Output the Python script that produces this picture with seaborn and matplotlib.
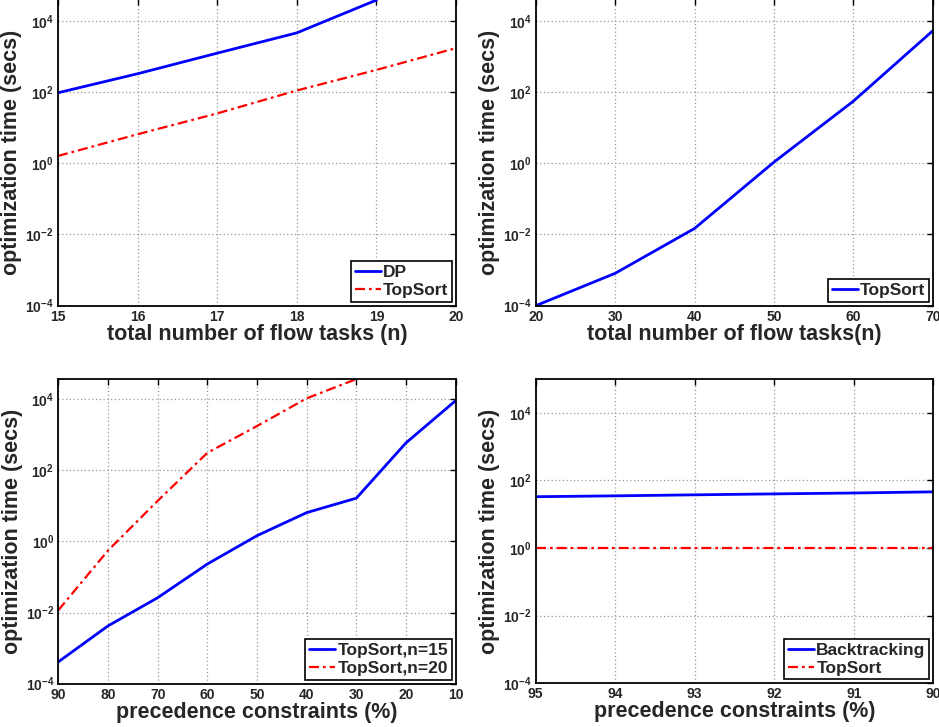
import numpy as np
import matplotlib
matplotlib.use("Agg")
import matplotlib.pyplot as plt
from matplotlib.ticker import FixedLocator, FuncFormatter, NullLocator
import seaborn as sns

# ---------------- data ----------------
# panel 1 (top-left)
tl_x = [15, 16, 17, 18, 19, 20]
tl_dp = [95, 325, 1230, 4560, 3.8e4, np.nan]
tl_topsort = [1.6, 6.5, 25, 110, 416, 1700]
# panel 2 (top-right)
tr_x = [20, 30, 40, 50, 60, 70]
tr_topsort = [1.0e-4, 8.1e-4, 0.0147, 1.07, 55, 5200]
# panel 3 (bottom-left)
bl_x = [90, 80, 70, 60, 50, 40, 30, 20, 10]
bl_n15 = [4.1e-4, 4.2e-3, 0.026, 0.23, 1.44, 6.4, 16.3, 585, 8980]
bl_n20 = [0.0116, 0.55, 13.7, 306, 1730, 1.04e4, 3.6e4, np.nan, np.nan]
# panel 4 (bottom-right)
br_x = [95, 94, 93, 92, 91, 90]
br_backtracking = [33, 35, 37.5, 40, 42.5, 46]
br_topsort = [1.0, 1.0, 1.0, 1.0, 1.0, 1.0]

y_ticks = [1e-4, 1e-2, 1e0, 1e2, 1e4]

# ---------------- style ----------------
sns.set_style("white")
plt.rcParams["font.family"] = ["Liberation Sans", "DejaVu Sans"]
plt.rcParams["font.weight"] = "bold"
plt.rcParams["mathtext.fontset"] = "custom"
plt.rcParams["mathtext.bf"] = "Liberation Sans:bold"
plt.rcParams["mathtext.rm"] = "Liberation Sans:bold"
plt.rcParams["mathtext.it"] = "Liberation Sans:bold"

W, H = 939, 727
fig = plt.figure(figsize=(W / 100, H / 100), dpi=100)


def px_axes(left, right, top, bottom):
    return fig.add_axes([left / W, (H - bottom) / H, (right - left) / W, (bottom - top) / H])


BLUE = (0, 0, 1)
RED = (1, 0, 0)
DASHDOT = (0, (4.5, 1.8, 1.2, 1.8))


def style_axes(ax, xticks, xlim, ylim, xlabel):
    ax.set_yscale("log")
    ax.set_xlim(*xlim)
    ax.set_ylim(*ylim)
    ax.xaxis.set_major_locator(FixedLocator(xticks))
    ax.yaxis.set_major_locator(FixedLocator(y_ticks))
    ax.yaxis.set_minor_locator(NullLocator())
    ax.xaxis.set_minor_locator(NullLocator())
    ax.yaxis.set_major_formatter(
        FuncFormatter(lambda v, p: r"$\mathbf{10^{%d}}$" % int(round(np.log10(v)))))
    ax.xaxis.set_major_formatter(FuncFormatter(lambda v, p: "%d" % v))
    ax.tick_params(which="both", direction="in", length=4, width=1.0, top=True, right=True,
                   labelsize=10, pad=3, color="black")
    for lab in ax.get_xticklabels() + ax.get_yticklabels():
        lab.set_fontweight("bold")
    ax.grid(True, which="major", linestyle=(0, (1, 2)), color="#9a9a9a", linewidth=0.9)
    for s in ax.spines.values():
        s.set_color("black")
        s.set_linewidth(1.3)
    ax.set_xlabel(xlabel, fontsize=15.5, fontweight="bold", labelpad=0)
    ax.set_ylabel("optimization time (secs)", fontsize=15.5, fontweight="bold", labelpad=2)


def legend(ax):
    leg = ax.legend(loc="lower right", fontsize=12.5, frameon=True, fancybox=False,
                    edgecolor="black", framealpha=1, borderaxespad=0.22, handlelength=1.5,
                    handletextpad=0.12, labelspacing=0.15, borderpad=0.22)
    leg.get_frame().set_linewidth(1.2)
    for t in leg.get_texts():
        t.set_fontweight("bold")


# ---------------- panel 1 ----------------
ax1 = px_axes(58, 456, -1, 305.7)
ax1.set_yscale("log")
sns.lineplot(x=tl_x, y=tl_dp, ax=ax1, color=BLUE, linewidth=2.0, label="DP", estimator=None)
sns.lineplot(x=tl_x, y=tl_topsort, ax=ax1, color=RED, linewidth=1.6, linestyle=DASHDOT,
             label="TopSort", estimator=None)
style_axes(ax1, [15, 16, 17, 18, 19, 20], (15, 20), (1e-4, 10 ** 4.61),
           "total number of flow tasks (n)")
legend(ax1)

# ---------------- panel 2 ----------------
ax2 = px_axes(535.7, 932.7, -1, 305.7)
ax2.set_yscale("log")
sns.lineplot(x=tr_x, y=tr_topsort, ax=ax2, color=BLUE, linewidth=2.0, label="TopSort",
             estimator=None)
style_axes(ax2, [20, 30, 40, 50, 60, 70], (20, 70), (1e-4, 10 ** 4.61),
           "total number of flow tasks(n)")
legend(ax2)

# ---------------- panel 3 ----------------
ax3 = px_axes(58.3, 455.7, 379, 683.7)
ax3.set_yscale("log")
sns.lineplot(x=bl_x, y=bl_n15, ax=ax3, color=BLUE, linewidth=2.0, label="TopSort,n=15",
             estimator=None, sort=False)
sns.lineplot(x=bl_x, y=bl_n20, ax=ax3, color=RED, linewidth=1.6, linestyle=DASHDOT,
             label="TopSort,n=20", estimator=None, sort=False)
style_axes(ax3, [90, 80, 70, 60, 50, 40, 30, 20, 10], (90, 10), (1e-4, 10 ** 4.56),
           "precedence constraints (%)")
legend(ax3)

# ---------------- panel 4 ----------------
ax4 = px_axes(535.7, 933.3, 379, 683.3)
ax4.set_yscale("log")
sns.lineplot(x=br_x, y=br_backtracking, ax=ax4, color=BLUE, linewidth=2.0, label="Backtracking",
             estimator=None, sort=False)
sns.lineplot(x=br_x, y=br_topsort, ax=ax4, color=RED, linewidth=1.6, linestyle=DASHDOT,
             label="TopSort", estimator=None, sort=False)
style_axes(ax4, [95, 94, 93, 92, 91, 90], (95, 90), (1e-4, 1e5),
           "precedence constraints (%)")
legend(ax4)

fig.savefig("out.png", dpi=100)
